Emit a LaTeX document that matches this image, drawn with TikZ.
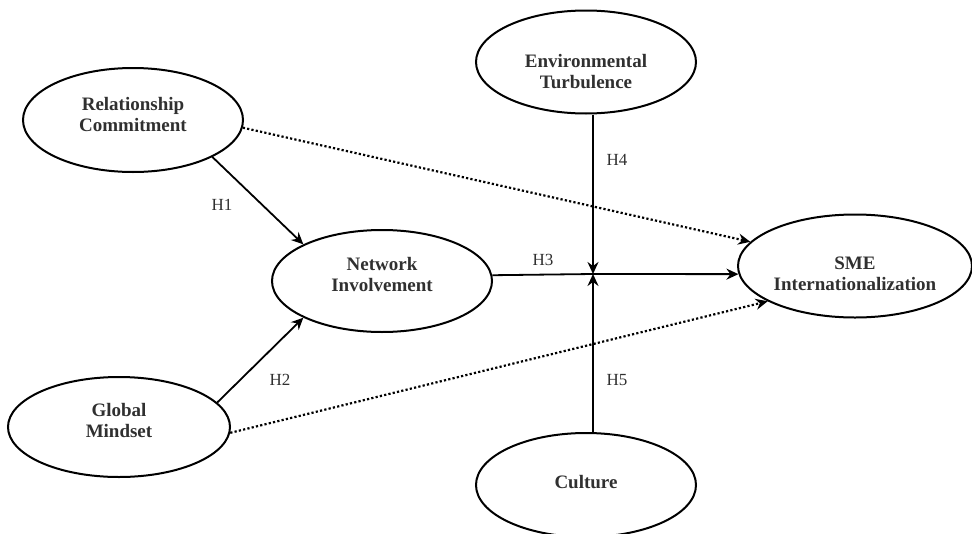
\documentclass[tikz,border=0pt]{standalone}
\usepackage{fontspec}
\setmainfont{Liberation Serif}
\usetikzlibrary{shapes.geometric,arrows.meta}
\definecolor{txt}{HTML}{303030}
\tikzset{
  construct/.style={ellipse, draw=black, line width=2pt, inner sep=0pt},
  ctext/.style={align=center, font=\fontsize{19}{21}\selectfont\bfseries, text=txt, inner sep=0pt},
  hlab/.style={font=\fontsize{17}{19}\selectfont, text=txt, inner sep=0pt},
  path/.style={line width=1.8pt, -{Stealth[length=12pt,width=11pt,inset=4pt]}},
  plain/.style={line width=1.8pt},
  dotpath/.style={line width=2.2pt, dash pattern=on 2.2pt off 2.2pt, -{Stealth[length=12pt,width=11pt,inset=4pt]}}
}
\begin{document}
\begin{tikzpicture}[x=1pt,y=-1pt]
\useasboundingbox (0,0) rectangle (972,533);
% ellipses
\node[construct, minimum width=220pt, minimum height=104pt] (rel) at (133,120) {};
\node[construct, minimum width=220pt, minimum height=103pt] (env) at (586,62) {};
\node[construct, minimum width=220pt, minimum height=102pt] (net) at (382,281) {};
\node[construct, minimum width=234pt, minimum height=103pt] (sme) at (855,266) {};
\node[construct, minimum width=222pt, minimum height=100pt] (gm) at (119,427) {};
\node[construct, minimum width=220pt, minimum height=104pt] (cul) at (586,485) {};
% texts
\node[ctext] (relt) at (133,114) {Relationship\\Commitment};
\node[ctext] (envt) at (586,72) {Environmental\\Turbulence};
\node[ctext] (nett) at (382,274) {Network\\Involvement};
\node[ctext] (smet) at (855,274) {SME\\Internationalization};
\node[ctext] (gmt) at (119,420) {Global\\Mindset};
\node[ctext] (cult) at (586,482) {Culture};
% junction
\coordinate (J) at (593,274);
% connectors
\draw[path] (rel.-25) -- (net.155);
\draw[path] (gm.14) -- (net.205);
\draw[plain] (net.3.6) -- (J);
\draw[path] (J) -- (sme.184);
\draw[path] (J |- env.south) -- (J);
\draw[path] (J |- cul.north) -- (J);
\draw[dotpath] (rel.-4) -- (sme.167);
\draw[dotpath] (gm.-3) -- (sme.202);
% labels
\node[hlab] (h1) at (222,205) {H1};
\node[hlab] (h2) at (280,380) {H2};
\node[hlab] (h3) at (543,260) {H3};
\node[hlab] (h4) at (617,160) {H4};
\node[hlab] (h5) at (617,380) {H5};
\end{tikzpicture}
\end{document}
